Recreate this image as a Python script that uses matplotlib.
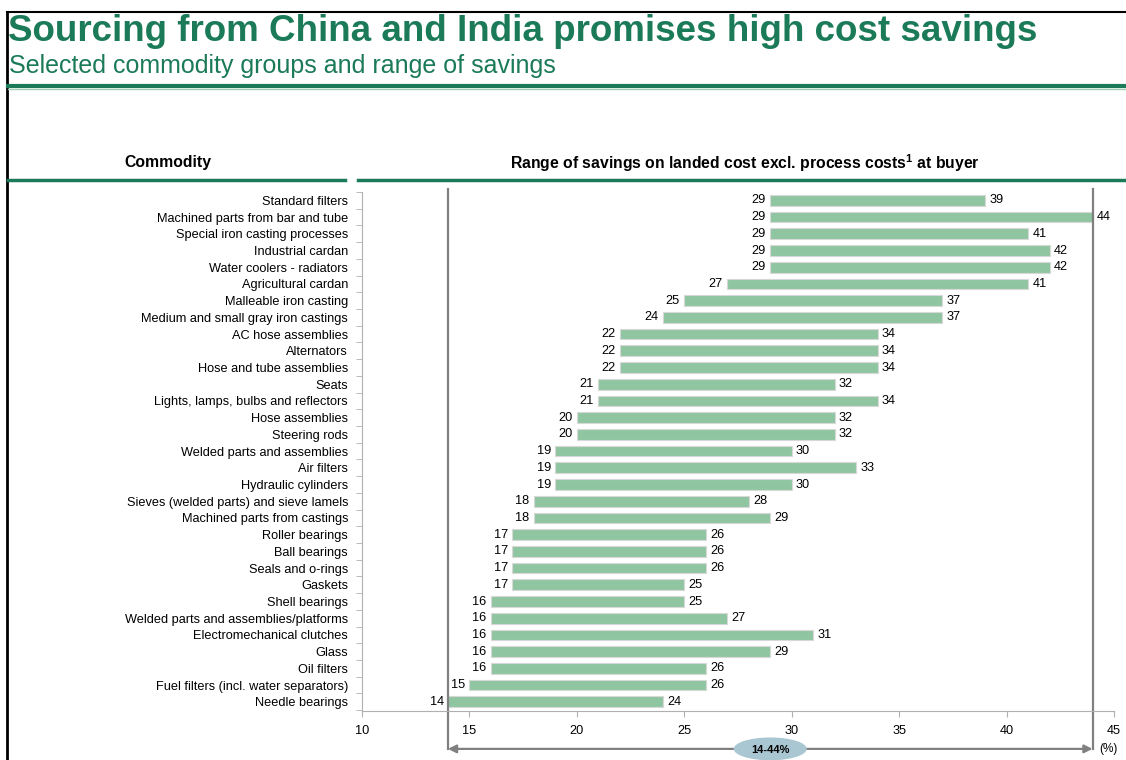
import matplotlib.pyplot as plt
from matplotlib.patches import Ellipse
import numpy as np

plt.rcParams['font.family'] = ['Liberation Sans', 'DejaVu Sans']

# commodity groups, top to bottom
commodities = [
    'Standard filters',
    'Machined parts from bar and tube',
    'Special iron casting processes',
    'Industrial cardan',
    'Water coolers - radiators',
    'Agricultural cardan',
    'Malleable iron casting',
    'Medium and small gray iron castings',
    'AC hose assemblies',
    'Alternators',
    'Hose and tube assemblies',
    'Seats',
    'Lights, lamps, bulbs and reflectors',
    'Hose assemblies',
    'Steering rods',
    'Welded parts and assemblies',
    'Air filters',
    'Hydraulic cylinders',
    'Sieves (welded parts) and sieve lamels',
    'Machined parts from castings',
    'Roller bearings',
    'Ball bearings',
    'Seals and o-rings',
    'Gaskets',
    'Shell bearings',
    'Welded parts and assemblies/platforms',
    'Electromechanical clutches',
    'Glass',
    'Oil filters',
    'Fuel filters (incl. water separators)',
    'Needle bearings',
]
low = [29, 29, 29, 29, 29, 27, 25, 24, 22, 22, 22, 21, 21, 20, 20, 19, 19, 19,
       18, 18, 17, 17, 17, 17, 16, 16, 16, 16, 16, 15, 14]
high = [39, 44, 41, 42, 42, 41, 37, 37, 34, 34, 34, 32, 34, 32, 32, 30, 33, 30,
        28, 29, 26, 26, 26, 25, 25, 27, 31, 29, 26, 26, 24]

range_min = min(low)
range_max = max(high)

green = '#1b7a57'
bar_col = '#8fc5a0'
grey = '#808080'
fs = 9.2

fig = plt.figure(figsize=(11.26, 7.6), dpi=100)

# frame lines on top and left
fig.add_artist(plt.Line2D([7/1126, 1], [1 - 12/760, 1 - 12/760], color='black', lw=1.5))
fig.add_artist(plt.Line2D([7/1126, 7/1126], [0, 1 - 12/760], color='black', lw=2))

fig.text(8/1126, 1 - 41/760, 'Sourcing from China and India promises high cost savings',
         fontsize=26.5, fontweight='bold', color=green, va='baseline', ha='left')
fig.text(9/1126, 1 - 73/760, 'Selected commodity groups and range of savings',
         fontsize=18, color=green, va='baseline', ha='left')
fig.add_artist(plt.Line2D([8/1126, 1], [1 - 86/760, 1 - 86/760], color=green, lw=3))
fig.add_artist(plt.Line2D([8/1126, 1], [1 - 89/760, 1 - 89/760], color='#9fd0b0', lw=1))

fig.text(168/1126, 1 - 163/760, 'Commodity', fontsize=11.3, fontweight='bold',
         ha='center', va='center')
fig.text(745/1126, 1 - 163/760, 'Range of savings on landed cost excl. process costs$^{\\mathregular{1}}$ at buyer',
         fontsize=11.3, fontweight='bold', ha='center', va='center')
fig.add_artist(plt.Line2D([8/1126, 345/1126], [1 - 180/760, 1 - 180/760], color=green, lw=2.5))
fig.add_artist(plt.Line2D([358/1126, 1], [1 - 180/760, 1 - 180/760], color=green, lw=2.5))

ax = fig.add_axes([362/1126, 49/760, 752/1126, 519/760])

y = np.arange(len(commodities))
widths = [h - l for l, h in zip(low, high)]
ax.barh(y, widths, left=low, height=0.64, color=bar_col, edgecolor='#d8d8d8', lw=0.8)

for i in range(len(commodities)):
    ax.text(low[i] - 0.2, y[i], str(low[i]), ha='right', va='center', fontsize=fs)
    ax.text(high[i] + 0.2, y[i], str(high[i]), ha='left', va='center', fontsize=fs)

ax.set_xlim(10, 45)
ax.set_ylim(len(commodities) - 0.45, -0.5)
ax.set_xticks(range(10, 46, 5))
ax.set_yticks(y)
ax.set_yticklabels(commodities, fontsize=fs)
ax.set_yticks(np.arange(-0.5, len(commodities), 1), minor=True)
ax.tick_params(axis='y', which='major', length=0, pad=10)
ax.tick_params(axis='y', which='minor', length=4, color='#b0b0b0')
ax.tick_params(axis='x', length=4, color='#b0b0b0', labelsize=fs, pad=6)
for s in ['top', 'right']:
    ax.spines[s].set_visible(False)
for s in ['left', 'bottom']:
    ax.spines[s].set_color('#b0b0b0')

# bracket marking the overall range
trans = ax.get_xaxis_transform()
for xv in [range_min, range_max]:
    ax.plot([xv, xv], [1.005, -0.073], transform=trans, color=grey, lw=1.6, clip_on=False)
ax.annotate('', xy=(range_min, -0.073), xytext=(range_max, -0.073), xycoords=trans,
            textcoords=trans, annotation_clip=False,
            arrowprops=dict(arrowstyle='<|-|>', color=grey, lw=1.6, mutation_scale=12,
                            shrinkA=0, shrinkB=0))
mid = (range_min + range_max) / 2
ax.add_patch(Ellipse((mid, -0.073), width=3.4, height=0.044, transform=trans,
                     facecolor='#a9c7d3', edgecolor='none', clip_on=False, zorder=5))
ax.text(mid, -0.075, f'{range_min}-{range_max}%', transform=trans, ha='center', va='center',
        fontsize=8, fontweight='bold', zorder=6)
ax.text(44.3, -0.073, '(%)', transform=trans, ha='left', va='center', fontsize=8.5)

fig.savefig('out.png', dpi=100)
